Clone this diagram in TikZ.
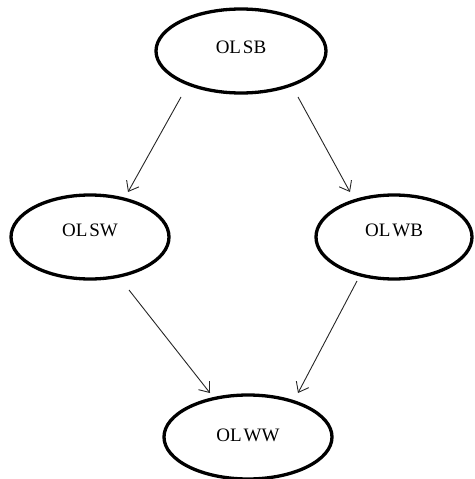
\documentclass[tikz,border=0pt]{standalone}
\usepackage{fontspec}
\setmainfont{Liberation Serif}
\usetikzlibrary{arrows.meta,shapes.geometric}
\newcommand{\thsp}{\hspace{0.1em}}
\begin{document}
\begin{tikzpicture}[x=1pt,y=-1pt,
  ell/.style={draw=black,line width=3.3pt,ellipse,minimum width=#1,minimum height=84pt,inner sep=0pt},
  lbl/.style={font=\fontsize{19}{19}\selectfont},
  conn/.style={draw=black!85,line width=0.9pt,-{Straight Barb[length=9pt,width=14pt,line width=0.9pt]}}]
\useasboundingbox (0,0) rectangle (474,479);
\node[ell=170pt] (sb) at (241,51) {};
\node[ell=158pt] (sw) at (90,237) {};
\node[ell=156pt] (wb) at (394,237) {};
\node[ell=168pt] (ww) at (248,437) {};
\node[lbl] (tsb) at (241,47) {OL\thsp SB};
\node[lbl] (tsw) at (90,230) {OL\thsp SW};
\node[lbl] (twb) at (394,230) {OL\thsp WB};
\node[lbl] (tww) at (248,435) {OL\thsp WW};
\coordinate (a1) at (181,97);
\coordinate (a2) at (128,192);
\coordinate (b1) at (298,97);
\coordinate (b2) at (350,192);
\coordinate (c1) at (129,290);
\coordinate (c2) at (210,393);
\coordinate (d1) at (357,281);
\coordinate (d2) at (298,393);
\draw[conn] (a1) -- (a2);
\draw[conn] (b1) -- (b2);
\draw[conn] (c1) -- (c2);
\draw[conn] (d1) -- (d2);
\end{tikzpicture}
\end{document}
